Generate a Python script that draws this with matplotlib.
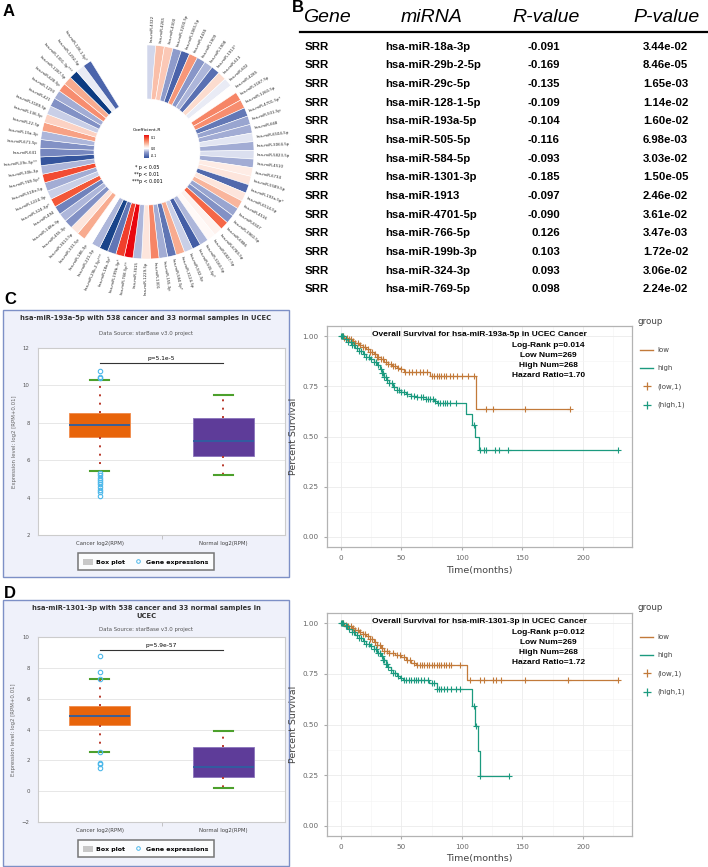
import numpy as np
import matplotlib
matplotlib.use('Agg')
import matplotlib.pyplot as plt
from matplotlib.colors import LinearSegmentedColormap, TwoSlopeNorm
from matplotlib.lines import Line2D
from matplotlib.patches import Rectangle, Patch
import matplotlib.cm as cm

W, H = 708, 867

# ---- panel A: circular heatmap (clockwise from 12 o'clock)
ring_labels = ['hsa-miR-4322', 'hsa-miR-4265', 'hsa-miR-4300', 'hsa-miR-3200-5p', 'hsa-miR-3065-5p',
               'hsa-miR-4436', 'hsa-miR-1909', 'hsa-miR-1908', 'hsa-miR-1913*', 'hsa-miR-613',
               'hsa-miR-602', 'hsa-miR-4285', 'hsa-miR-3187-5p', 'hsa-miR-1260-5p', 'hsa-miR-4701-5p*',
               'hsa-miR-501-5p', 'hsa-miR-668', 'hsa-miR-6504-5p', 'hsa-miR-3064-5p', 'hsa-miR-5823-5p',
               'hsa-miR-4510', 'hsa-miR-6734', 'hsa-miR-5589-5p', 'hsa-miR-193a-5p*', 'hsa-miR-6514-5p',
               'hsa-miR-4516', 'hsa-miR-6507', 'hsa-miR-3960-5p', 'hsa-miR-6886', 'hsa-miR-6780-5p',
               'hsa-miR-6827-5p', 'hsa-miR-3160-5p', 'hsa-miR-505-5p*', 'hsa-miR-502-3p', 'hsa-miR-3124-5p',
               'hsa-miR-584-5p*', 'hsa-miR-155-3p', 'hsa-miR-1301', 'hsa-miR-1229-5p', 'hsa-miR-3615',
               'hsa-miR-766-5p**', 'hsa-miR-199b-3p*', 'hsa-miR-18a-3p*', 'hsa-miR-29b-2-5p***', 'hsa-miR-221-3p',
               'hsa-miR-186-3p', 'hsa-miR-331-5p', 'hsa-miR-3613-5p', 'hsa-miR-455-3p', 'hsa-miR-148a-3p',
               'hsa-miR-494', 'hsa-miR-324-3p*', 'hsa-miR-1224-3p', 'hsa-miR-518e-5p', 'hsa-miR-769-5p*',
               'hsa-miR-30b-3p', 'hsa-miR-29c-5p**', 'hsa-miR-641', 'hsa-miR-671-5p', 'hsa-miR-15a-3p',
               'hsa-miR-22-5p', 'hsa-miR-136-5p', 'hsa-miR-3189-5p', 'hsa-miR-421', 'hsa-miR-1293',
               'hsa-miR-628-5p', 'hsa-miR-1287-5p', 'hsa-miR-1301-3p***', 'hsa-miR-1292-5p', 'hsa-miR-128-1-5p*']
ring_r = [-0.02, 0.04, 0.035, -0.055, -0.11, 0.06, -0.06, -0.04, -0.097, 0.025,
          -0.01, 0.0, 0.07, 0.065, -0.090, -0.05, -0.045, -0.012, -0.045, -0.015,
          -0.045, 0.015, 0.02, -0.104, 0.02, 0.045, -0.05, -0.065, 0.085, 0.01,
          0.005, -0.04, -0.116, -0.025, 0.05, -0.093, -0.045, 0.07, 0.02, -0.04,
          0.126, 0.103, -0.091, -0.169, -0.04, 0.0, 0.05, 0.02, -0.065, -0.04,
          -0.08, 0.093, -0.025, -0.045, 0.098, -0.04, -0.135, -0.075, -0.065, -0.04,
          0.055, 0.03, -0.025, -0.065, -0.045, 0.065, 0.05, -0.185, -0.01, -0.109]

# ---- panel B: table
tab_gene = ['SRR'] * 14
tab_mirna = ['hsa-miR-18a-3p', 'hsa-miR-29b-2-5p', 'hsa-miR-29c-5p', 'hsa-miR-128-1-5p', 'hsa-miR-193a-5p',
             'hsa-miR-505-5p', 'hsa-miR-584-5p', 'hsa-miR-1301-3p', 'hsa-miR-1913', 'hsa-miR-4701-5p',
             'hsa-miR-766-5p', 'hsa-miR-199b-3p', 'hsa-miR-324-3p', 'hsa-miR-769-5p']
tab_r = [-0.091, -0.169, -0.135, -0.109, -0.104, -0.116, -0.093, -0.185, -0.097, -0.090,
         0.126, 0.103, 0.093, 0.098]
tab_p = [3.44e-02, 8.46e-05, 1.65e-03, 1.14e-02, 1.60e-02, 6.98e-03, 3.03e-02, 1.50e-05, 2.46e-02, 3.61e-02,
         3.47e-03, 1.72e-02, 3.06e-02, 2.24e-02]

# ---- box plots (C: miR-193a-5p, D: miR-1301-3p)
box_groups = ['Cancer log2(RPM)', 'Normal log2(RPM)']
c_q1, c_med, c_q3 = [7.25, 6.25], [7.9, 7.05], [8.5, 8.25]
c_lo, c_hi = [5.4, 5.2], [10.3, 9.5]
c_fliers = [[10.75, 10.45, 10.4, 5.3, 5.2, 5.05, 4.95, 4.85, 4.75, 4.55, 4.4, 4.3, 4.1], []]
c_pval = 'p=5.1e-5'
d_q1, d_med, d_q3 = [4.3, 0.95], [4.9, 1.6], [5.55, 2.85]
d_lo, d_hi = [2.55, 0.2], [7.25, 3.9]
d_fliers = [[8.8, 7.7, 7.3, 2.55, 1.85, 1.75, 1.5], []]
d_pval = 'p=5.9e-57'

# ---- survival curves (step times / survival)
c_low_t = [0, 3, 6, 9, 12, 15, 18, 21, 24, 27, 30, 33, 36, 39, 42, 46, 50, 52, 74, 112, 189]
c_low_s = [1.0, 0.99, 0.985, 0.975, 0.965, 0.955, 0.945, 0.935, 0.92, 0.91, 0.895, 0.885, 0.87, 0.86,
           0.85, 0.84, 0.835, 0.82, 0.80, 0.638, 0.638]
c_low_cens = [1, 2, 3, 5, 7, 8, 10, 12, 14, 16, 18, 20, 22, 24, 26, 28, 30, 31, 33, 35, 37, 39, 41, 43, 45,
              47, 50, 53, 56, 59, 62, 65, 68, 71, 75, 77, 79, 81, 83, 85, 87, 90, 93, 96, 100, 105, 110,
              120, 126, 152, 189]
c_high_t = [0, 3, 6, 9, 12, 15, 18, 21, 24, 27, 30, 32, 34, 36, 38, 40, 43, 46, 50, 54, 58, 63, 70, 77,
            79, 103, 108, 111, 114, 229]
c_high_s = [1.0, 0.985, 0.97, 0.955, 0.94, 0.925, 0.91, 0.895, 0.885, 0.87, 0.855, 0.835, 0.815, 0.795,
            0.78, 0.765, 0.745, 0.73, 0.72, 0.71, 0.70, 0.695, 0.685, 0.675, 0.665, 0.612, 0.559, 0.496,
            0.431, 0.431]
c_high_cens = [0, 1, 2, 4, 6, 8, 9, 11, 13, 15, 17, 19, 21, 23, 25, 27, 29, 31, 33, 34, 35, 36, 37, 38,
               40, 42, 44, 46, 48, 50, 52, 55, 58, 60, 63, 66, 68, 70, 72, 74, 76, 78, 80, 82, 84, 86,
               88, 90, 95, 110, 115, 118, 120, 127, 131, 138, 229]
c_stats = ['Overall Survival for hsa-miR-193a-5p in UCEC Cancer', 'Log-Rank p=0.014', 'Low Num=269',
           'High Num=268', 'Hazard Ratio=1.70']

d_low_t = [0, 3, 6, 9, 12, 15, 18, 21, 24, 27, 30, 33, 36, 40, 45, 50, 54, 58, 62, 104, 229]
d_low_s = [1.0, 0.99, 0.985, 0.975, 0.965, 0.955, 0.945, 0.935, 0.92, 0.905, 0.89, 0.875, 0.865, 0.855,
           0.845, 0.835, 0.82, 0.805, 0.795, 0.72, 0.72]
d_low_cens = [1, 2, 4, 6, 8, 10, 12, 14, 16, 18, 20, 22, 24, 26, 28, 30, 32, 34, 36, 38, 40, 43, 46, 49,
              52, 55, 57, 60, 63, 65, 67, 69, 71, 73, 75, 77, 79, 81, 83, 85, 87, 89, 91, 98, 107, 115,
              118, 126, 128, 132, 152, 188, 229]
d_high_t = [0, 3, 6, 9, 12, 15, 18, 21, 24, 27, 30, 33, 35, 37, 39, 41, 43, 46, 49, 51, 73, 79, 108, 111,
            113, 114.6, 139]
d_high_s = [1.0, 0.985, 0.97, 0.955, 0.94, 0.925, 0.91, 0.895, 0.885, 0.87, 0.855, 0.84, 0.82, 0.80,
            0.785, 0.77, 0.755, 0.74, 0.73, 0.72, 0.705, 0.675, 0.59, 0.491, 0.367, 0.248, 0.248]
d_high_cens = [0, 1, 2, 4, 5, 7, 9, 11, 13, 15, 17, 19, 21, 23, 25, 27, 29, 31, 32, 34, 35, 36, 37, 38,
               39, 41, 43, 45, 47, 50, 52, 54, 56, 58, 60, 62, 64, 66, 69, 72, 75, 77, 79, 81, 83, 85,
               88, 91, 95, 98, 110, 112, 115, 139]
d_stats = ['Overall Survival for hsa-miR-1301-3p in UCEC Cancer', 'Log-Rank p=0.012', 'Low Num=269',
           'High Num=268', 'Hazard Ratio=1.72']

LOW_COL = '#c27a3a'
HIGH_COL = '#1b9a7f'


def rect(l, t, r, b):
    return [l / W, 1 - b / H, (r - l) / W, (b - t) / H]


def fx(x):
    return x / W


def fy(y):
    return 1 - y / H


fig = plt.figure(figsize=(W / 100, H / 100), dpi=100)
fig.patch.set_facecolor('white')

# panel letters
for letter, (x, y) in zip('ABCD', [(3, 12), (292, 8), (4, 300), (4, 594)]):
    fig.text(fx(x), fy(y), letter, fontsize=12, fontweight='bold', va='center', ha='left',
             family='Liberation Sans')

# ---------------- A
cmap = LinearSegmentedColormap.from_list('rb', [(0.0, '#08397f'), (0.2, '#4660a8'), (0.35, '#8c99ca'),
                                                (0.45, '#d3d8ec'), (0.5, '#ffffff'), (0.58, '#fde4da'),
                                                (0.7, '#f8a88b'), (0.85, '#f45c3b'), (1.0, '#e8000b')])
norm = TwoSlopeNorm(vmin=-0.19, vcenter=0.0, vmax=0.13)

axa = fig.add_axes(rect(40, 45, 254, 259), projection='polar')
axa.set_theta_zero_location('N')
axa.set_theta_direction(-1)
n = len(ring_r)
step = np.deg2rad(4.69)
theta = (np.arange(n) + 0.5) * step
axa.bar(theta, 54, width=step, bottom=53, color=cmap(norm(np.array(ring_r))),
        edgecolor='white', linewidth=0.4)
axa.set_ylim(0, 107)
axa.axis('off')
for th, name in zip(theta, ring_labels):
    deg = np.rad2deg(th)
    if deg < 180:
        rot, ha = 90 - deg, 'left'
    else:
        rot, ha = 270 - deg, 'right'
    axa.text(th, 110, name, rotation=rot, rotation_mode='anchor', ha=ha, va='center',
             fontsize=2.8, color='#222222', clip_on=False)

fig.text(fx(147), fy(130), 'Coefficient-R', fontsize=3.2, ha='center', va='center')
cax = fig.add_axes(rect(144, 135, 149, 158))
cb = fig.colorbar(cm.ScalarMappable(norm=norm, cmap=cmap), cax=cax, ticks=[-0.1, 0.0, 0.1])
cb.outline.set_visible(False)
cax.set_ylim(-0.13, 0.125)
cax.tick_params(labelsize=2.3, length=0, pad=1.5)
cb.set_ticklabels(['-0.1', '0.0', '0.1'])
for i, s in enumerate(['* p < 0.05', '**p < 0.01', '***p < 0.001']):
    fig.text(fx(147), fy(168 + 6.8 * i), s, fontsize=3.4, ha='center', va='center')

# ---------------- B
hdr_y = 18
for s, x in zip(['Gene', 'miRNA', 'R-value', 'P-value'], [327, 432, 546, 667]):
    fig.text(fx(x), fy(hdr_y), s, fontsize=14, style='italic', ha='center', va='center',
             family='Liberation Sans')
fig.add_artist(Line2D([fx(300), fx(708)], [fy(32), fy(32)], color='black', lw=1.6))
for i in range(len(tab_mirna)):
    y = fy(46.7 + 18.67 * i)
    kw = dict(fontsize=8.2, fontweight='bold', va='center', ha='left', family='Liberation Sans')
    fig.text(fx(305), y, tab_gene[i], **kw)
    fig.text(fx(385), y, tab_mirna[i], **kw)
    fig.text(fx(528) if tab_r[i] < 0 else fx(531), y, '%.3f' % tab_r[i], **kw)
    fig.text(fx(643), y, '%.2e' % tab_p[i], **kw)


# ---------------- C / D box plots
def box_panel(frame, ax_rect, title, q1, med, q3, lo, hi, fliers, pval, pline_y, ylim, yticks):
    l, t, r, b = frame
    fig.patches.append(Rectangle((fx(l), fy(b)), (r - l) / W, (b - t) / H, transform=fig.transFigure,
                                 facecolor='#eff1fa', edgecolor='#7d90c6', lw=1.0, zorder=-5,
                                 figure=fig))
    ax = fig.add_axes(ax_rect)
    ax.set_facecolor('white')
    stats = []
    for k in range(2):
        stats.append(dict(q1=q1[k], med=med[k], q3=q3[k], whislo=lo[k], whishi=hi[k],
                          fliers=fliers[k], label=box_groups[k]))
    bp = ax.bxp(stats, positions=[0.5, 1.5], widths=0.49, patch_artist=True, capwidths=0.15,
                whiskerprops=dict(color='#b8382a', lw=1.4, linestyle=(0, (1, 3.3))),
                capprops=dict(color='#4ca02c', lw=1.5),
                medianprops=dict(color='#2e5fa0', lw=1.3),
                flierprops=dict(marker='o', markerfacecolor='none', markeredgecolor='#4db8ea',
                                markersize=3.2, markeredgewidth=0.8))
    for patch, fc, ec in zip(bp['boxes'], ['#e8640a', '#5e3c99'], ['#f08a4a', '#8a74bb']):
        patch.set_facecolor(fc)
        patch.set_edgecolor(ec)
        patch.set_linewidth(0.6)
    ax.plot([0.5, 1.5], [pline_y, pline_y], color='#333333', lw=0.8)
    ax.text(1.0, pline_y + (ylim[1] - ylim[0]) * 0.012, pval, ha='center', va='bottom', fontsize=4.2)
    ax.set_xlim(0, 2)
    ax.set_ylim(*ylim)
    ax.set_yticks(yticks)
    ax.set_xticks([0.5, 1.5])
    ax.set_xticklabels(box_groups)
    ax.set_xticks([1.0], minor=True)
    ax.tick_params(axis='x', which='major', length=0, labelsize=3.9, labelcolor='#444444', pad=4)
    ax.tick_params(axis='x', which='minor', length=3, color='#bbbbbb')
    ax.tick_params(axis='y', length=0, labelsize=3.9, labelcolor='#555555', pad=6)
    ax.yaxis.grid(True, color='#e3e3e3', lw=0.6)
    ax.set_axisbelow(True)
    for sp in ax.spines.values():
        sp.set_color('#cccccc')
        sp.set_linewidth(0.8)
    ax.set_ylabel('Expression level: log2 [RPM+0.01]', fontsize=3.9, color='#666666', labelpad=4)
    handles = [Patch(facecolor='#c8c8c8', edgecolor='none', label='Box plot'),
               Line2D([], [], marker='o', ls='none', markerfacecolor='none', markeredgecolor='#4db8ea',
                      markersize=2.6, markeredgewidth=0.7, label='Gene expressions')]
    leg_x = ((l + r) / 2 - ax_rect[0] * W) / (ax_rect[2] * W)
    leg = ax.legend(handles=handles, ncol=2, loc='upper center', bbox_to_anchor=(leg_x, -0.082),
                    prop=dict(weight='bold', size=4.5), frameon=True, fancybox=False,
                    handlelength=1.5, handleheight=1.1, columnspacing=1.3, borderpad=0.85,
                    handletextpad=0.6)
    leg.get_frame().set_edgecolor('#555555')
    leg.get_frame().set_linewidth(1.1)
    leg.get_frame().set_facecolor('white')
    tx = (l + r) / 2
    fig.text(fx(tx), fy(t + 5), title, ha='center', va='top', fontsize=4.9, fontweight='bold',
             color='#333333', linespacing=1.3)
    return ax


box_panel((3, 310, 289, 577), rect(38, 348, 285, 535),
          'hsa-miR-193a-5p with 538 cancer and 33 normal samples in UCEC',
          c_q1, c_med, c_q3, c_lo, c_hi, c_fliers, c_pval, 11.2, (2, 12), [2, 4, 6, 8, 10, 12])
fig.text(fx(146), fy(333), 'Data Source: starBase v3.0 project', ha='center', va='center', fontsize=3.9,
         color='#555555')
box_panel((3, 600, 289, 866), rect(38, 637, 285, 822),
          'hsa-miR-1301-3p with 538 cancer and 33 normal samples in\nUCEC',
          d_q1, d_med, d_q3, d_lo, d_hi, d_fliers, d_pval, 9.15, (-2, 10), [-2, 0, 2, 4, 6, 8, 10])
fig.text(fx(146), fy(630), 'Data Source: starBase v3.0 project', ha='center', va='center', fontsize=3.9,
         color='#555555')


# ---------------- survival
def step_value(times, surv, t):
    idx = np.searchsorted(np.array(times), np.array(t), side='right') - 1
    return np.array(surv)[idx]


def surv_panel(ax_rect, low_t, low_s, low_c, high_t, high_s, high_c, stats, leg_top):
    ax = fig.add_axes(ax_rect)
    ax.step(low_t, low_s, where='post', color=LOW_COL, lw=0.9)
    ax.step(high_t, high_s, where='post', color=HIGH_COL, lw=0.9)
    ax.plot(low_c, step_value(low_t, low_s, low_c), ls='none', marker='+', color=LOW_COL,
            markersize=5, markeredgewidth=0.8)
    ax.plot(high_c, step_value(high_t, high_s, high_c), ls='none', marker='+', color=HIGH_COL,
            markersize=5, markeredgewidth=0.8)
    ax.set_xlim(-11.45, 240.45)
    ax.set_ylim(-0.05, 1.05)
    ax.set_xticks([0, 50, 100, 150, 200])
    ax.set_yticks([0, 0.25, 0.5, 0.75, 1.0])
    ax.set_yticklabels(['0.00', '0.25', '0.50', '0.75', '1.00'])
    ax.set_xticks([25, 75, 125, 175, 225], minor=True)
    ax.set_yticks([0.125, 0.375, 0.625, 0.875], minor=True)
    ax.grid(True, which='major', color='#ebebeb', lw=0.6)
    ax.grid(True, which='minor', color='#f4f4f4', lw=0.4)
    ax.set_axisbelow(True)
    ax.tick_params(which='major', length=2.5, color='#aaaaaa', labelsize=5.2, labelcolor='#666666')
    ax.tick_params(which='minor', length=0)
    for sp in ax.spines.values():
        sp.set_color('#b3b3b3')
        sp.set_linewidth(0.9)
    ax.set_xlabel('Time(months)', fontsize=6.8, color='#444444', labelpad=3)
    ax.set_ylabel('Percent Survival', fontsize=6.8, color='#444444', labelpad=3)
    ax.text(0.50, 0.96, stats[0], transform=ax.transAxes, ha='center', va='center', fontsize=6,
            fontweight='bold', family='Liberation Sans')
    for i, s in enumerate(stats[1:]):
        ax.text(0.725, 0.911 - 0.0447 * i, s, transform=ax.transAxes, ha='center', va='center',
                fontsize=6, fontweight='bold', family='Liberation Sans')
    fig.text(fx(638), fy(leg_top), 'group', fontsize=6.3, color='#444444', ha='left', va='center')
    handles = [Line2D([], [], color=LOW_COL, lw=1), Line2D([], [], color=HIGH_COL, lw=1),
               Line2D([], [], color=LOW_COL, marker='+', ls='none', markersize=5.5, markeredgewidth=0.9),
               Line2D([], [], color=HIGH_COL, marker='+', ls='none', markersize=5.5, markeredgewidth=0.9)]
    leg = fig.legend(handles, ['low', 'high', '(low,1)', '(high,1)'], loc='upper left',
                     bbox_to_anchor=(fx(640), fy(leg_top + 26)), frameon=False, fontsize=5,
                     labelspacing=1.75, handlelength=1.9, handletextpad=0.6,
                     borderaxespad=0, borderpad=0)
    for txt in leg.get_texts():
        txt.set_color('#444444')
    return ax


surv_panel(rect(327, 326, 632, 547), c_low_t, c_low_s, c_low_cens, c_high_t, c_high_s, c_high_cens,
           c_stats, 321)
surv_panel(rect(327, 613, 632, 836), d_low_t, d_low_s, d_low_cens, d_high_t, d_high_s, d_high_cens,
           d_stats, 608)

fig.savefig('out.png', dpi=100)
